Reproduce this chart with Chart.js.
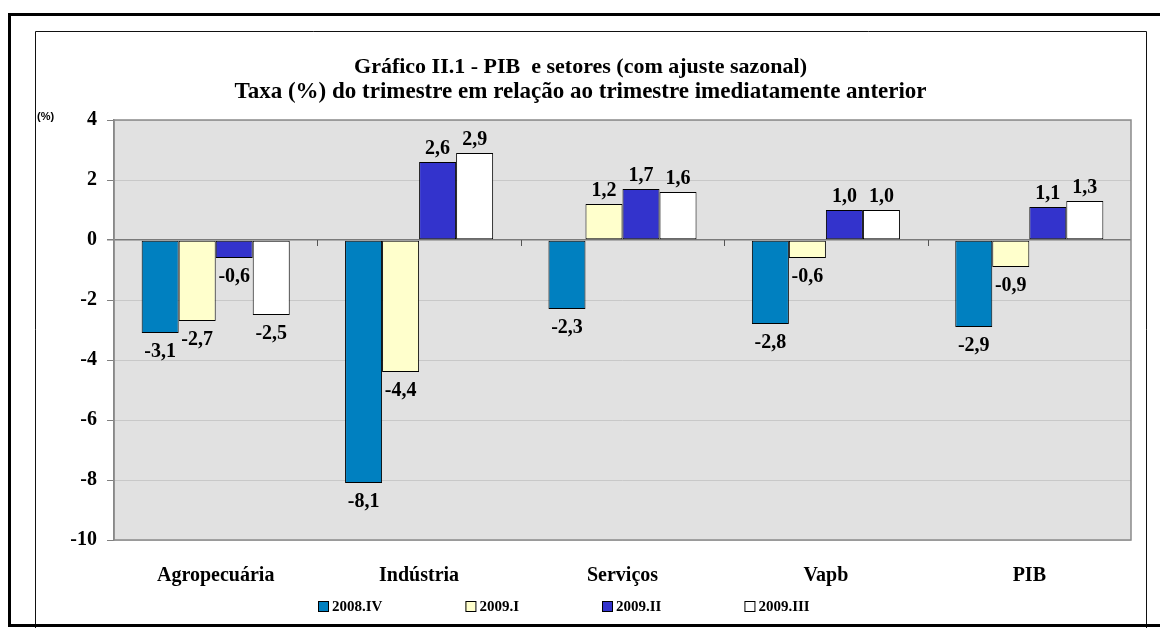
<!DOCTYPE html>
<html>
<head>
<meta charset="utf-8">
<script src="https://cdn.jsdelivr.net/npm/chart.js@4.4.1/dist/chart.umd.min.js"></script>
<style>
  html, body { margin: 0; padding: 0; background: #fff; }
  #wrap { width: 1160px; height: 635px; }
</style>
</head>
<body>
<div id="wrap"><canvas id="c" width="1160" height="635"></canvas></div>
<script>
// ---- data ----
const categories = ['Agropecuária', 'Indústria', 'Serviços', 'Vapb', 'PIB'];
const seriesNames = ['2008.IV', '2009.I', '2009.II', '2009.III'];
const s2008IV  = [-3.1, -8.1, -2.3, -2.8, -2.9];
const s2009I   = [-2.7, -4.4,  1.2, -0.6, -0.9];
const s2009II  = [-0.6,  2.6,  1.7,  1.0,  1.1];
const s2009III = [-2.5,  2.9,  1.6,  1.0,  1.3];
const yTickLabels = ['4', '2', '0', '-2', '-4', '-6', '-8', '-10'];
const titleText = 'Gráfico II.1 - PIB  e setores (com ajuste sazonal)';
const subtitleText = 'Taxa (%) do trimestre em relação ao trimestre imediatamente anterior';
const yUnitLabel = '(%)';

// ---- styles ----
const seriesValues = [s2008IV, s2009I, s2009II, s2009III];
const seriesColors = ['#0080C0', '#FFFFCC', '#3333CC', '#FFFFFF'];
const SERIF = '"Liberation Serif", "Times New Roman", serif';
const yNums = yTickLabels.map(Number);

const fmt = v => v.toFixed(1).replace('.', ',');

const framePlugin = {
  id: 'frame',
  beforeDraw(chart) {
    const ctx = chart.ctx, a = chart.chartArea;
    ctx.save();
    ctx.fillStyle = '#fff';
    ctx.fillRect(0, 0, chart.width, chart.height);
    // inner box
    ctx.strokeStyle = '#111';
    ctx.lineWidth = 1;
    ctx.beginPath();
    ctx.moveTo(35.5, 628); ctx.lineTo(35.5, 31.5); ctx.lineTo(1146.5, 31.5); ctx.lineTo(1146.5, 628);
    ctx.stroke();
    // outer frame
    ctx.strokeStyle = '#000';
    ctx.lineWidth = 3;
    ctx.strokeRect(9.5, 14.5, 1170, 611);
    // plot area
    ctx.fillStyle = '#E1E1E1';
    ctx.fillRect(a.left, a.top, a.right - a.left, a.bottom - a.top);
    // unit label
    ctx.fillStyle = '#000';
    ctx.font = 'bold 11px "Liberation Sans", Arial, sans-serif';
    ctx.textAlign = 'left';
    ctx.textBaseline = 'middle';
    ctx.fillText(yUnitLabel, 37, 117);
    ctx.restore();
  },
  afterDatasetsDraw(chart) {
    const ctx = chart.ctx, a = chart.chartArea;
    const y = chart.scales.y, x = chart.scales.x;
    const y0 = y.getPixelForValue(0);
    ctx.save();
    // plot border
    ctx.strokeStyle = '#8a8a8a';
    ctx.lineWidth = 1.5;
    ctx.strokeRect(a.left, a.top, a.right - a.left, a.bottom - a.top);
    // category boundary ticks on zero line
    ctx.strokeStyle = '#555';
    ctx.lineWidth = 1;
    for (let i = 1; i < categories.length; i++) {
      const px = Math.round((x.getPixelForValue(i - 1) + x.getPixelForValue(i)) / 2) + 0.5;
      ctx.beginPath();
      ctx.moveTo(px, y0);
      ctx.lineTo(px, y0 + 6);
      ctx.stroke();
    }
    // data labels
    ctx.fillStyle = '#000';
    ctx.font = 'bold 20px ' + SERIF;
    ctx.textAlign = 'center';
    ctx.textBaseline = 'middle';
    chart.data.datasets.forEach((ds, di) => {
      const meta = chart.getDatasetMeta(di);
      meta.data.forEach((el, i) => {
        const v = ds.data[i];
        const ly = v >= 0 ? el.y - 13 : el.y + 19;
        ctx.fillText(fmt(v), el.x, ly);
      });
    });
    ctx.restore();
  },
  afterDraw(chart) {
    // legend
    const ctx = chart.ctx;
    ctx.save();
    ctx.font = 'bold 15px ' + SERIF;
    ctx.textBaseline = 'middle';
    ctx.textAlign = 'left';
    let lx = 318;
    const ly = 606;
    chart.data.datasets.forEach((ds) => {
      ctx.fillStyle = ds.backgroundColor;
      ctx.fillRect(lx, ly - 5, 10, 10);
      ctx.strokeStyle = '#000';
      ctx.lineWidth = 1;
      ctx.strokeRect(lx + 0.5, ly - 4.5, 10, 10);
      ctx.fillStyle = '#000';
      ctx.fillText(ds.label, lx + 14, ly + 1);
      lx += 14 + ctx.measureText(ds.label).width + 83;
    });
    ctx.restore();
  }
};

new Chart(document.getElementById('c'), {
  type: 'bar',
  data: {
    labels: categories,
    datasets: seriesNames.map((name, i) => ({
      label: name,
      data: seriesValues[i],
      backgroundColor: seriesColors[i],
      borderColor: '#000',
      borderWidth: 1,
      borderSkipped: false,
      categoryPercentage: 0.728,
      barPercentage: 1.0
    }))
  },
  options: {
    responsive: false,
    animation: false,
    devicePixelRatio: 1,
    layout: { padding: { top: 54, left: 30, right: 29, bottom: 35 } },
    plugins: {
      legend: { display: false },
      tooltip: { enabled: false },
      title: {
        display: true,
        text: titleText,
        color: '#000',
        font: { family: SERIF, size: 22, weight: 'bold', lineHeight: 1.2 },
        padding: { top: 0, bottom: 0 }
      },
      subtitle: {
        display: true,
        text: subtitleText,
        color: '#000',
        font: { family: SERIF, size: 23, weight: 'bold', lineHeight: 1.0 },
        padding: { top: 0, bottom: 16.6 }
      }
    },
    scales: {
      x: {
        grid: { display: false },
        border: { display: false },
        ticks: {
          color: '#000',
          padding: 16,
          font: { family: SERIF, size: 20, weight: 'bold' }
        },
        afterFit(scale) { scale.height = 60; }
      },
      y: {
        min: Math.min(...yNums),
        max: Math.max(...yNums),
        afterBuildTicks(scale) { scale.ticks = yNums.map(v => ({ value: v })); },
        ticks: {
          color: '#000',
          padding: 10,
          font: { family: SERIF, size: 20, weight: 'bold' },
          callback: (v) => yTickLabels[yNums.indexOf(v)]
        },
        grid: {
          color: (c) => (c.tick && c.tick.value === 0) ? '#7a7a7a' : '#c8c8c8',
          lineWidth: (c) => (c.tick && c.tick.value === 0) ? 1.5 : 1,
          tickColor: '#808080',
          tickLength: 7
        },
        border: { display: true, color: '#808080', width: 1.5 },
        afterFit(scale) { scale.width = 84; }
      }
    }
  },
  plugins: [framePlugin]
});
</script>
</body>
</html>
